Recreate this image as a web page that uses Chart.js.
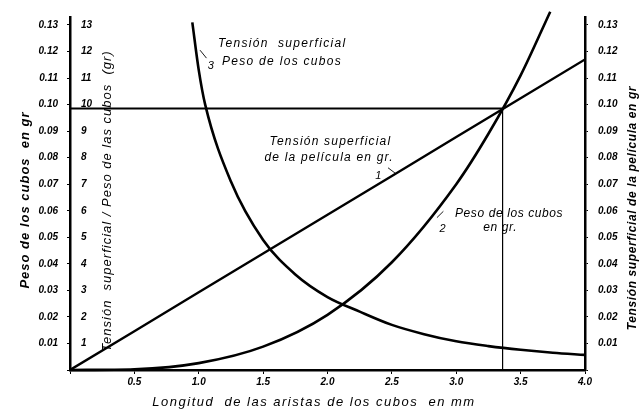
<!DOCTYPE html>
<html>
<head>
<meta charset="utf-8">
<script src="https://cdn.jsdelivr.net/npm/chart.js@4"></script>
<style>
  html, body { margin: 0; padding: 0; background: #fff; }
  #wrap { width: 643px; height: 414px; }
</style>
</head>
<body>
<div id="wrap"><canvas id="cubeChart"></canvas></div>
<script>
// Longitud de la arista (mm) y valores
const tensionX = [0, 0.5, 1.0, 1.5, 2.0, 2.5, 3.0, 3.5, 4.0];
const tensionY = [0, 1.46, 2.93, 4.39, 5.85, 7.31, 8.78, 10.24, 11.7];

const pesoX = [0, 0.5, 1.0, 1.5, 2.0, 2.5, 3.0, 3.25, 3.5, 3.73];
const pesoY = [0, 0.03, 0.26, 0.88, 2.08, 4.06, 7.0, 8.9, 11.1, 13.5];

const ratioX = [0.95, 1.0, 1.05, 1.25, 1.5, 1.75, 2.0, 2.25, 2.5, 2.75, 3.0, 3.25, 3.5, 3.75, 4.0];
const ratioY = [13.1, 11.3, 10.0, 7.1, 4.9, 3.6, 2.75, 2.2, 1.7, 1.35, 1.08, 0.9, 0.76, 0.65, 0.57];

// punto donde tension = peso
const crossX = 3.36;
const crossY = 9.85;

const xTicks = [0.5, 1.0, 1.5, 2.0, 2.5, 3.0, 3.5, 4.0];
const yMax = 13.3;

const pts = (xs, ys) => xs.map((v, i) => ({ x: v, y: ys[i] }));

const sans = "'Liberation Sans', 'DejaVu Sans', sans-serif";
const tickFont = { family: sans, size: 10, style: 'italic', weight: 'bold' };

// textos sobre la grafica
const notes = {
  id: 'notes',
  afterDraw(chart) {
    const { ctx, scales: { x, y } } = chart;
    const at = (t, vx, vy, font, sp) => {
      ctx.font = font;
      ctx.letterSpacing = (sp || 0) + 'px';
      ctx.fillText(t, x.getPixelForValue(vx), y.getPixelForValue(vy));
    };
    const mark = (x0, y0, x1, y1) => {
      ctx.beginPath();
      ctx.moveTo(x.getPixelForValue(x0), y.getPixelForValue(y0));
      ctx.lineTo(x.getPixelForValue(x1), y.getPixelForValue(y1));
      ctx.stroke();
    };
    const rot = (t, px, py, font, sp) => {
      ctx.save();
      ctx.translate(px, py);
      ctx.rotate(-Math.PI / 2);
      ctx.font = font;
      ctx.letterSpacing = sp + 'px';
      ctx.textAlign = 'center';
      ctx.fillText(t, 0, 0);
      ctx.restore();
    };
    ctx.save();
    ctx.fillStyle = '#000';
    ctx.strokeStyle = '#000';
    ctx.lineWidth = 0.9;
    ctx.textBaseline = 'middle';
    const f = "italic 12px " + sans;
    const fs = "italic 11px " + sans;
    at('Tensión  superficial', 1.15, 12.3, f, 1.3);
    at('Peso de los cubos', 1.18, 11.6, f, 1.3);
    at('3', 1.07, 11.45, fs);
    mark(1.06, 11.75, 1.01, 12.05);
    at('Tensión superficial', 1.55, 8.6, f, 1.2);
    at('de la película en gr.', 1.51, 8.0, f, 1.2);
    at('1', 2.37, 7.3, fs);
    mark(2.47, 7.62, 2.53, 7.4);
    at('Peso de los cubos', 2.99, 5.9, f, 0.6);
    at('en gr.', 3.21, 5.35, f, 0.6);
    at('2', 2.87, 5.3, fs);
    mark(2.85, 5.74, 2.9, 5.98);
    rot('Peso de los cubos  en gr', 25, 200, "italic bold 13px " + sans, 1);
    rot('Tensión  superficial / Peso de las cubos  (gr)', 107, 201, "italic 13px " + sans, 1);
    rot('Tensión superficial de la película en gr', 633, 208, "italic bold 12px " + sans, 0.6);
    ctx.font = "italic 13px " + sans;
    ctx.letterSpacing = '1.5px';
    ctx.textAlign = 'center';
    ctx.fillText('Longitud  de las aristas de los cubos  en mm', 314, 402);
    ctx.restore();
  }
};

const ctxCubes = document.getElementById('cubeChart').getContext('2d');
new Chart(ctxCubes, {
  type: 'line',
  data: {
    datasets: [
      { data: pts(tensionX, tensionY), borderColor: '#000', borderWidth: 2.4, pointRadius: 0 },
      { data: pts(pesoX, pesoY), borderColor: '#000', borderWidth: 2.6, pointRadius: 0,
        cubicInterpolationMode: 'monotone', clip: false },
      { data: pts(ratioX, ratioY), borderColor: '#000', borderWidth: 2.6, pointRadius: 0,
        cubicInterpolationMode: 'monotone' },
      { data: [{ x: 0, y: crossY }, { x: crossX, y: crossY }], borderColor: '#000', borderWidth: 2, pointRadius: 0 },
      { data: [{ x: crossX, y: 0 }, { x: crossX, y: crossY }], borderColor: '#000', borderWidth: 1.2, pointRadius: 0 }
    ]
  },
  options: {
    responsive: true,
    maintainAspectRatio: false,
    animation: false,
    layout: { padding: { top: 17, left: 0, right: 0, bottom: 0 } },
    plugins: { legend: { display: false }, tooltip: { enabled: false } },
    scales: {
      x: {
        type: 'linear', min: 0, max: 4,
        afterFit: s => { s.height = 44; },
        afterBuildTicks: s => { s.ticks = [0].concat(xTicks).map(v => ({ value: v })); },
        ticks: { color: '#000', font: tickFont, padding: 2,
          callback: v => v === 0 ? '' : v.toFixed(1) },
        grid: { drawOnChartArea: false, color: '#000', tickLength: 4 },
        border: { color: '#000', width: 2.5 }
      },
      y: {
        position: 'left', min: 0, max: yMax, weight: 1,
        afterFit: s => { s.width = 70; },
        ticks: { stepSize: 1, includeBounds: false, color: '#000', font: tickFont, padding: 9,
          callback: v => v === 0 ? '' : (v / 100).toFixed(2) },
        grid: { drawOnChartArea: false, color: '#000', tickLength: 3 },
        border: { color: '#000', width: 2.5 }
      },
      yIn: {
        position: 'left', min: 0, max: yMax, weight: 0,
        afterFit: s => { s.width = 0; },
        ticks: { mirror: true, stepSize: 1, includeBounds: false, color: '#000', font: tickFont, padding: 11,
          callback: v => v === 0 ? '' : v },
        grid: { display: false },
        border: { display: false }
      },
      yR: {
        position: 'right', min: 0, max: yMax,
        afterFit: s => { s.width = 58; },
        ticks: { stepSize: 1, includeBounds: false, color: '#000', font: tickFont, padding: 10,
          callback: v => v === 0 ? '' : (v / 100).toFixed(2) },
        grid: { drawOnChartArea: false, color: '#000', tickLength: 3 },
        border: { color: '#000', width: 2.5 }
      }
    }
  },
  plugins: [notes]
});
</script>
</body>
</html>
